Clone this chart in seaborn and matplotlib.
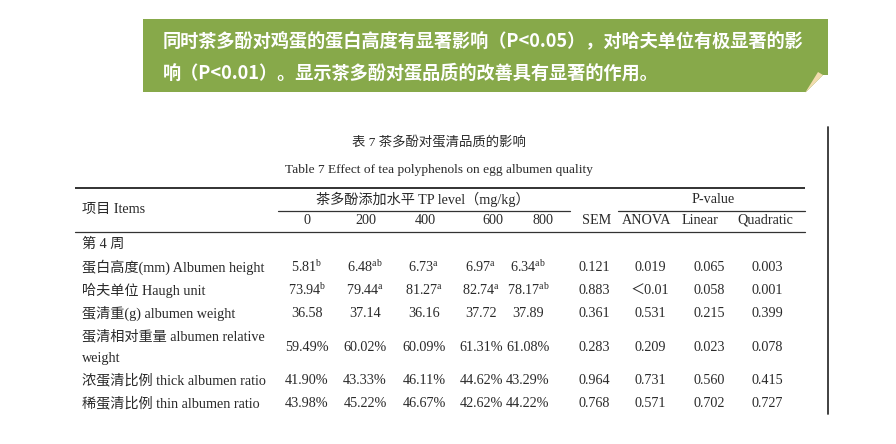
import matplotlib
matplotlib.use("Agg")
import matplotlib.pyplot as plt
from matplotlib.patches import Rectangle, Polygon
import seaborn as sns

# ---------------- data ----------------
banner_lines = [
    "同时茶多酚对鸡蛋的蛋白高度有显著影响（P<0.05），对哈夫单位有极显著的影",
    "响（P<0.01）。显示茶多酚对蛋品质的改善具有显著的作用。",
]
title_cn = "表 7 茶多酚对蛋清品质的影响"
title_en = "Table 7 Effect of tea polyphenols on egg albumen quality"
items_header = "项目 Items"
tp_header = "茶多酚添加水平 TP level（mg/kg）"
p_header = "P-value"
col_labels = ["0", "200", "400", "600", "800", "SEM", "ANOVA", "Linear", "Quadratic"]
section_label = "第 4 周"
row_labels = [
    "蛋白高度(mm) Albumen height",
    "哈夫单位 Haugh unit",
    "蛋清重(g) albumen weight",
    "蛋清相对重量 albumen relative\nweight",
    "浓蛋清比例 thick albumen ratio",
    "稀蛋清比例 thin albumen ratio",
]
tp0 = ["5.81", "73.94", "36.58", "59.49%", "41.90%", "43.98%"]
tp200 = ["6.48", "79.44", "37.14", "60.02%", "43.33%", "45.22%"]
tp400 = ["6.73", "81.27", "36.16", "60.09%", "46.11%", "46.67%"]
tp600 = ["6.97", "82.74", "37.72", "61.31%", "44.62%", "42.62%"]
tp800 = ["6.34", "78.17", "37.89", "61.08%", "43.29%", "44.22%"]
sup0 = ["b", "b", "", "", "", ""]
sup200 = ["ab", "a", "", "", "", ""]
sup400 = ["a", "a", "", "", "", ""]
sup600 = ["a", "a", "", "", "", ""]
sup800 = ["ab", "ab", "", "", "", ""]
sem = ["0.121", "0.883", "0.361", "0.283", "0.964", "0.768"]
p_anova = ["0.019", "＜0.01", "0.531", "0.209", "0.731", "0.571"]
p_linear = ["0.065", "0.058", "0.215", "0.023", "0.560", "0.702"]
p_quad = ["0.003", "0.001", "0.399", "0.078", "0.415", "0.727"]

# ---------------- style ----------------
sns.set_theme(style="white")
plt.rcParams["font.family"] = ["Liberation Serif", "Noto Sans CJK SC", "DejaVu Sans"]
plt.rcParams["mathtext.fontset"] = "custom"
plt.rcParams["mathtext.rm"] = "Liberation Serif"
plt.rcParams["mathtext.it"] = "Liberation Serif:italic"

fig = plt.figure(figsize=(8.96, 4.44), dpi=100)
ax = fig.add_axes([0, 0, 1, 1])
ax.set_xlim(0, 896)
ax.set_ylim(444, 0)
ax.axis("off")

# ---------------- banner ----------------
green = "#87a94a"
ax.add_patch(Rectangle((143, 19), 828 - 143, 92 - 19, color=green, lw=0))
ax.add_patch(Polygon([(805, 93), (823, 75), (829, 75), (829, 93)], closed=True,
                     color="white", lw=0))
ax.add_patch(Polygon([(805, 93), (818, 72), (823, 75)], closed=True,
                     color="#f2dcae", lw=0))
for i, line in enumerate(banner_lines):
    ax.text(163, 42 + i * 31, line, color="white", fontsize=13.1, fontweight="bold",
            family=["Noto Sans CJK SC", "DejaVu Sans"], ha="left", va="center")

# ---------------- table ----------------
tc = "#2a2a2a"
fs_t = 9.6
fs = 10.2
ax.text(439, 143, title_cn, color=tc, fontsize=fs_t, ha="center", va="center")
ax.text(439, 170, title_en, color=tc, fontsize=fs_t, ha="center", va="center")

ax.plot([75, 805], [188, 188], color="#222222", lw=1.3, solid_capstyle="butt")
ax.plot([278, 570], [211, 211], color="#333333", lw=0.9)
ax.plot([618, 805], [211, 211], color="#333333", lw=0.9)
ax.plot([75, 805], [232, 232], color="#333333", lw=0.9)
ax.plot([828, 828], [127, 414], color="#333333", lw=1.3)

ax.text(82, 209, items_header, color=tc, fontsize=fs, ha="left", va="center")
ax.text(423, 199, tp_header, color=tc, fontsize=fs, ha="center", va="center")
ax.text(713, 199, p_header, color=tc, fontsize=fs, ha="center", va="center")

header_x = [307, 366, 425, 493, 543, 597, 647, 700, 765]
for x, lab in zip(header_x, col_labels):
    ax.text(x, 220, lab, color=tc, fontsize=fs, ha="center", va="center")

ax.text(82, 244, section_label, color=tc, fontsize=fs, ha="left", va="center")

row_y = [267, 290, 313, 347, 380, 403]
value_x = [307, 365, 424, 481, 528, 594, 650, 709, 767]
columns = [tp0, tp200, tp400, tp600, tp800, sem, p_anova, p_linear, p_quad]
sups = [sup0, sup200, sup400, sup600, sup800, None, None, None, None]

for r, (y, lab) in enumerate(zip(row_y, row_labels)):
    if "\n" in lab:
        l1, l2 = lab.split("\n")
        ax.text(82, y - 11, l1, color=tc, fontsize=fs, ha="left", va="center")
        ax.text(82, y + 11, l2, color=tc, fontsize=fs, ha="left", va="center")
    else:
        ax.text(82, y, lab, color=tc, fontsize=fs, ha="left", va="center")
    for c, (x, col) in enumerate(zip(value_x, columns)):
        s = col[r]
        if sups[c] is not None and sups[c][r]:
            s = s + r"$^{\mathrm{" + sups[c][r] + "}}$"
        ax.text(x, y, s, color=tc, fontsize=fs, ha="center", va="center")

fig.savefig("out.png", dpi=100, facecolor="white")
